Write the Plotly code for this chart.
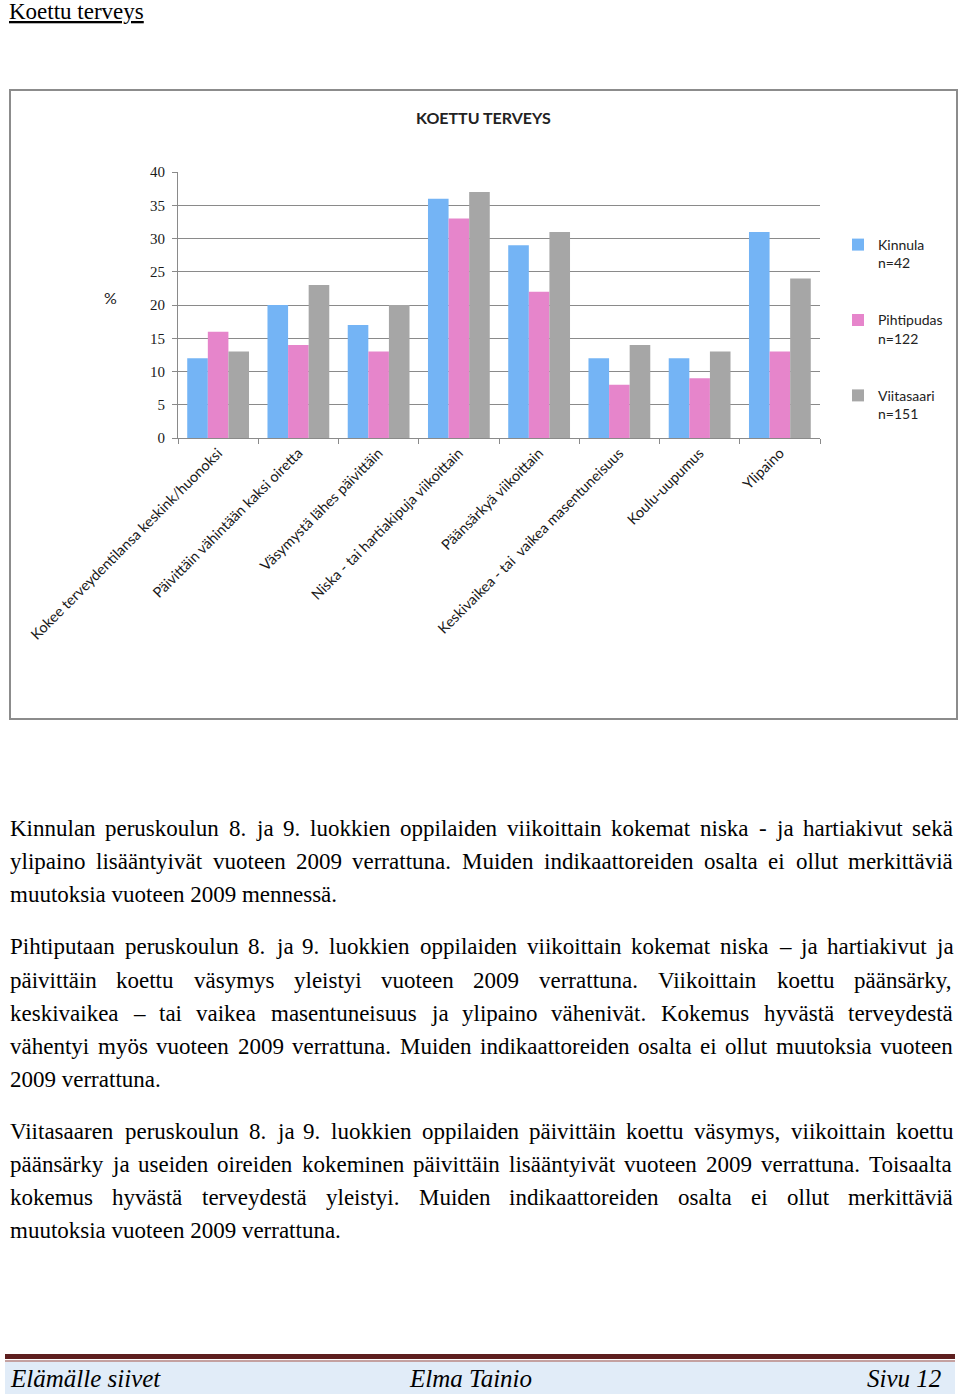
import plotly.graph_objects as go

# ---------------- data ----------------
categories = [
    "Kokee terveydentilansa keskink/huonoksi",
    "Päivittäin vähintään kaksi oiretta",
    "Väsymystä lähes päivittäin",
    "Niska - tai hartiakipuja viikoittain",
    "Päänsärkyä viikoittain",
    "Keskivaikea - tai\u00a0 vaikea masentuneisuus",
    "Koulu-uupumus",
    "Ylipaino",
]
kinnula = [12, 20, 17, 36, 29, 12, 12, 31]
pihtipudas = [16, 14, 13, 33, 22, 8, 9, 13]
viitasaari = [13, 23, 20, 37, 31, 14, 13, 24]
series_names = ["Kinnula<br>n=42", "Pihtipudas<br>n=122", "Viitasaari<br>n=151"]
series_values = [kinnula, pihtipudas, viitasaari]
series_colors = ["#74b4f5", "#e685cb", "#a6a6a6"]
y_tick_values = [0, 5, 10, 15, 20, 25, 30, 35, 40]

page_title = "Koettu terveys"
chart_title = "KOETTU TERVEYS"
paragraphs = [
    [
        "Kinnulan peruskoulun 8. ja 9. luokkien oppilaiden viikoittain kokemat niska - ja hartiakivut sekä",
        "ylipaino lisääntyivät vuoteen 2009 verrattuna. Muiden indikaattoreiden osalta ei ollut merkittäviä",
        "muutoksia vuoteen 2009 mennessä.",
    ],
    [
        "Pihtiputaan peruskoulun 8. ja 9. luokkien oppilaiden viikoittain kokemat niska – ja hartiakivut ja",
        "päivittäin koettu väsymys yleistyi vuoteen 2009 verrattuna. Viikoittain koettu päänsärky,",
        "keskivaikea – tai vaikea masentuneisuus ja ylipaino vähenivät. Kokemus hyvästä terveydestä",
        "vähentyi myös vuoteen 2009 verrattuna. Muiden indikaattoreiden osalta ei ollut muutoksia vuoteen",
        "2009 verrattuna.",
    ],
    [
        "Viitasaaren peruskoulun 8. ja 9. luokkien oppilaiden päivittäin koettu väsymys, viikoittain koettu",
        "päänsärky ja useiden oireiden kokeminen päivittäin lisääntyivät vuoteen 2009 verrattuna. Toisaalta",
        "kokemus hyvästä terveydestä yleistyi. Muiden indikaattoreiden osalta ei ollut merkittäviä",
        "muutoksia vuoteen 2009 verrattuna.",
    ],
]
footer_left = "Elämälle siivet"
footer_mid = "Elma Tainio"
footer_right = "Sivu 12"

# ---------------- page geometry ----------------
W, H = 960, 1394


def px(x):
    return x / W


def py(y):
    return 1 - y / H


fig = go.Figure()
for name, vals, col in zip(series_names, series_values, series_colors):
    fig.add_trace(go.Bar(
        x=categories, y=vals, name=name, marker=dict(color=col, line=dict(width=0)),
        legendgroup=name,
    ))

annotations = []
shapes = []

# chart frame
shapes.append(dict(type="rect", xref="paper", yref="paper",
                   x0=px(10), x1=px(957), y0=py(719), y1=py(90),
                   line=dict(color="#8c8c8c", width=2), layer="below"))

annotations.append(dict(text="<b>" + chart_title + "</b>", x=px(483), y=py(117), xref="paper", yref="paper",
                        showarrow=False, font=dict(family="Lato", size=16, color="#222"),
                        xanchor="center", yanchor="middle"))
annotations.append(dict(text="%", x=px(110), y=py(298), xref="paper", yref="paper",
                        showarrow=False, font=dict(family="Lato", size=16, color="#222"),
                        xanchor="center", yanchor="middle"))

# page title
annotations.append(dict(text="<u>" + page_title + "</u>", x=px(8), y=py(11), xref="paper", yref="paper",
                        showarrow=False, font=dict(family="Liberation Serif", size=23, color="#000"),
                        xanchor="left", yanchor="middle", borderpad=0))

# ---------------- justified paragraphs ----------------
TIMES = {' ': 250, 'a': 444, 'b': 500, 'c': 444, 'd': 500, 'e': 444, 'f': 333, 'g': 500, 'h': 500,
         'i': 278, 'j': 278, 'k': 500, 'l': 278, 'm': 778, 'n': 500, 'o': 500, 'p': 500, 'q': 500,
         'r': 333, 's': 389, 't': 278, 'u': 500, 'v': 500, 'w': 722, 'x': 500, 'y': 500, 'z': 444,
         'ä': 444, 'ö': 500, 'å': 444, 'A': 722, 'B': 667, 'C': 667, 'D': 722, 'E': 611, 'F': 556,
         'G': 722, 'H': 722, 'I': 333, 'J': 389, 'K': 722, 'L': 611, 'M': 889, 'N': 722, 'O': 722,
         'P': 556, 'Q': 722, 'R': 667, 'S': 556, 'T': 611, 'U': 722, 'V': 722, 'W': 944, 'X': 722,
         'Y': 722, 'Z': 611, '.': 250, ',': 250, '-': 333, '–': 500, ':': 278, ';': 278}
FS = 23
X0, X1 = 9, 952


def text_w(s):
    return sum(TIMES.get(c, 500) for c in s) / 1000 * FS


def add_text(s, x, y):
    annotations.append(dict(text=s, x=px(x), y=py(y), xref="paper", yref="paper", showarrow=False,
                            font=dict(family="Liberation Serif", size=FS, color="#000"),
                            xanchor="left", yanchor="middle", borderpad=0))


line_centers = [[828, 861, 894], [946, 980, 1013, 1046, 1079], [1131, 1164, 1197, 1230]]
for para, ys in zip(paragraphs, line_centers):
    for i, (line, y) in enumerate(zip(para, ys)):
        last = i == len(para) - 1
        words = line.split(" ")
        if last or len(words) < 2:
            add_text(line, X0, y)
            continue
        widths = [text_w(w) for w in words]
        gap = (X1 - X0 - sum(widths)) / (len(words) - 1)
        x = X0
        for w, wd in zip(words, widths):
            add_text(w, x, y)
            x += wd + gap

# ---------------- footer ----------------
shapes.append(dict(type="rect", xref="paper", yref="paper", x0=px(5), x1=px(955), y0=py(1394), y1=py(1362),
                   fillcolor="#e1ecf8", line=dict(width=0), layer="below"))
shapes.append(dict(type="rect", xref="paper", yref="paper", x0=px(5), x1=px(955), y0=py(1359), y1=py(1354),
                   fillcolor="#5e1f1f", line=dict(width=0), layer="below"))
shapes.append(dict(type="rect", xref="paper", yref="paper", x0=px(5), x1=px(955), y0=py(1361.5), y1=py(1360.5),
                   fillcolor="#8a4545", line=dict(width=0), layer="below"))
for txt, x, anchor in [(footer_left, 9, "left"), (footer_mid, 408, "left"), (footer_right, 942, "right")]:
    annotations.append(dict(text="<i>" + txt + "</i>", x=px(x), y=py(1378), xref="paper", yref="paper",
                            showarrow=False, font=dict(family="Liberation Serif", size=25, color="#000"),
                            xanchor=anchor, yanchor="middle", borderpad=0))

fig.update_layout(
    width=W, height=H,
    margin=dict(l=0, r=0, t=0, b=0, autoexpand=False),
    paper_bgcolor="white", plot_bgcolor="white",
    barmode="group", bargap=0.23, bargroupgap=0,
    showlegend=True,
    legend=dict(x=px(838), y=py(229), xanchor="left", yanchor="top",
                font=dict(family="Lato", size=14, color="#222"),
                tracegroupgap=36, valign="top", bgcolor="rgba(0,0,0,0)", traceorder="grouped"),
    xaxis=dict(domain=[px(178), px(820)], showline=True, linecolor="#8a8a8a", linewidth=1,
               ticks="outside", tickson="boundaries", ticklen=5, tickcolor="#8a8a8a",
               tickangle=-45, tickfont=dict(family="Lato", size=14.5, color="#1a1a1a"),
               showgrid=False, zeroline=False, fixedrange=True, automargin=False),
    yaxis=dict(domain=[py(438), py(172)], range=[0, 40.01], tickvals=y_tick_values,
               showline=True, linecolor="#8a8a8a", linewidth=1, ticks="outside", ticklen=5,
               tickcolor="#8a8a8a", showgrid=True, gridcolor="#8a8a8a", gridwidth=1, zeroline=False,
               ticklabelstandoff=4,
               tickfont=dict(family="Liberation Serif", size=15, color="#1a1a1a"), fixedrange=True,
               automargin=False),
    annotations=annotations, shapes=shapes,
)

fig.write_html("out.html")
